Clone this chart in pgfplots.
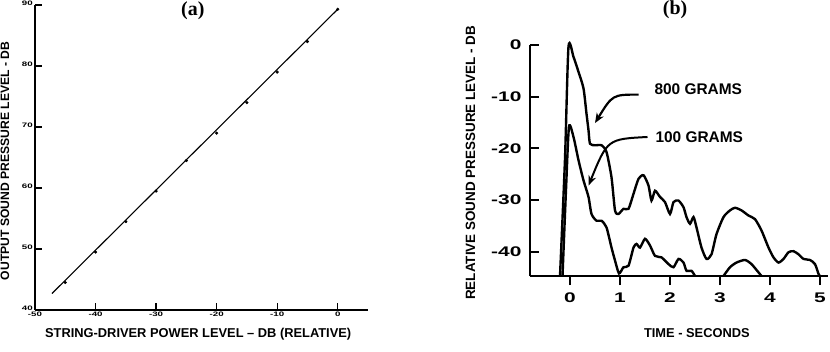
\documentclass[border=0pt]{standalone}
\usepackage{pgfplots}
\pgfplotsset{compat=1.18}
\usepackage{fontspec}
\setmainfont{Liberation Sans}
\newfontfamily\titlefont{Liberation Serif}
\newfontfamily\widefont{Liberation Sans Bold}[FakeStretch=1.5]
\usetikzlibrary{arrows.meta}

% 800 g and 100 g decay curves, panel (b)
\pgfplotstableread{
t db
-0.20 -44.7
-0.10 -22
-0.03 -0.3
0.07 -2.3
0.17 -5.2
0.27 -8.4
0.33 -13.3
0.37 -16.5
0.40 -19.1
0.50 -19.4
0.63 -19.4
0.73 -20.7
0.83 -25.6
0.90 -32.0
0.97 -32.7
1.07 -31.7
1.17 -31.7
1.27 -28.8
1.37 -25.9
1.47 -25.2
1.57 -27.2
1.63 -30.1
1.70 -28.2
1.80 -29.4
1.90 -30.4
2.00 -32.7
2.07 -30.4
2.17 -30.1
2.27 -31.4
2.33 -33.3
2.40 -34.6
2.47 -33.3
2.53 -35.3
2.63 -39.2
2.73 -41.4
2.83 -40.5
2.93 -36.6
3.07 -33.3
3.20 -32.0
3.30 -31.5
3.43 -32.0
3.57 -33.0
3.70 -33.7
3.83 -35.9
3.97 -39.2
4.07 -41.1
4.17 -42.1
4.27 -41.4
4.37 -40.1
4.47 -39.9
4.57 -40.5
4.67 -41.4
4.80 -41.6
4.90 -42.4
4.97 -44.3
5.00 -44.7
}\heavy

\pgfplotstableread{
t db
-0.15 -44.7
-0.08 -28
-0.02 -15.8
0.07 -17.8
0.17 -22.3
0.27 -26.2
0.37 -29.4
0.43 -32.7
0.53 -34.0
0.63 -34.0
0.73 -35.3
0.83 -39.2
0.90 -41.7
0.98 -44.2
1.07 -43.0
1.17 -42.7
1.27 -39.2
1.33 -38.5
1.40 -39.2
1.50 -37.5
1.60 -38.8
1.70 -40.8
1.83 -41.1
1.97 -42.4
2.07 -43.0
2.17 -41.4
2.27 -42.1
2.33 -43.7
2.43 -43.7
2.50 -44.7
}\lightA

\pgfplotstableread{
t db
3.07 -44.7
3.20 -43.0
3.33 -42.1
3.50 -41.6
3.63 -42.4
3.77 -44.0
3.83 -44.7
}\lightB

\begin{document}
\begin{tikzpicture}
\useasboundingbox (0,0) rectangle (830bp,352bp);

% panel (a)
\begin{axis}[
    at={(35bp,42bp)}, anchor=south west,
    scale only axis, width=333bp, height=305bp,
    xmin=-50, xmax=5, ymin=40, ymax=90,
    axis lines*=left,
    axis line style={line width=1.2pt},
    tick align=inside,
    major tick length=7bp,
    tick style={line width=1.2pt, black},
    xtick={-50,-40,...,0},
    ytick={40,50,...,90},
    xticklabel={\pgfmathprintnumber[assume math mode=true]{\tick}},
    yticklabel={\pgfmathprintnumber[assume math mode=true]{\tick}},
    tick label style={font=\widefont\fontsize{6.5}{6.5}\selectfont, inner sep=1bp},
    xticklabel style={yshift=-1bp},
    yticklabel style={xshift=-1bp, yshift=1.5bp},
    xlabel={STRING-DRIVER POWER LEVEL -- DB (RELATIVE)},
    ylabel={OUTPUT SOUND PRESSURE LEVEL - DB},
    xlabel style={at={(axis description cs:0.49,-0.08)}, anchor=center,
        font=\bfseries\fontsize{12.9}{12.9}\selectfont},
    ylabel style={at={(axis description cs:-0.09,0.489)}, anchor=center,
        font=\bfseries\fontsize{12.2}{12.2}\selectfont},
    title={(a)},
    title style={at={(axis description cs:0.474,0.962)}, anchor=center,
        font=\titlefont\bfseries\fontsize{20}{20}\selectfont},
    clip=false,
]
\addplot[black, line width=1.1pt] coordinates {(-47.2,42.7) (0,89.3)};
\addplot[black, only marks, mark=*, mark size=1.4pt] coordinates {
    (-45,44.5) (-40,49.5) (-35,54.5) (-30,59.5) (-25,64.5)
    (-20,69) (-15,74) (-10,79) (-5,84) (0,89.3)};
\end{axis}

% panel (b)
\begin{axis}[
    at={(530bp,76bp)}, anchor=south west,
    scale only axis, width=298bp, height=231bp,
    xmin=-0.8, xmax=5.16, ymin=-44.7, ymax=0,
    axis lines*=left,
    axis line style={line width=1.8pt},
    xtick align=outside, ytick align=inside,
    xtick={0,1,...,5},
    ytick={0,-10,...,-40},
    xticklabel={\pgfmathprintnumber[assume math mode=true]{\tick}},
    yticklabel={\pgfmathprintnumber[assume math mode=true]{\tick}},
    major tick length=9bp,
    tick style={line width=1.8pt, black},
    tick label style={font=\widefont\fontsize{14}{14}\selectfont},
    xticklabel style={yshift=-4bp},
    yticklabel style={xshift=-5bp},
    xlabel={TIME - SECONDS},
    ylabel={RELATIVE SOUND PRESSURE LEVEL - DB},
    xlabel style={at={(axis description cs:0.56,-0.247)}, anchor=center,
        font=\bfseries\fontsize{12.9}{12.9}\selectfont},
    ylabel style={at={(axis description cs:-0.2,0.49)}, anchor=center,
        font=\bfseries\fontsize{13.5}{13.5}\selectfont},
    title={(b)},
    title style={at={(axis description cs:0.487,1.126)}, anchor=center,
        font=\titlefont\bfseries\fontsize{20}{20}\selectfont},
    clip=false,
]
\addplot[black, line width=2.4pt, smooth, tension=0.4] table[x=t, y=db] {\heavy};
\addplot[black, line width=2.4pt, smooth, tension=0.4] table[x=t, y=db] {\lightA};
\addplot[black, line width=2.4pt, smooth, tension=0.4] table[x=t, y=db] {\lightB};

\node[anchor=west, font=\bfseries\fontsize{15.5}{15.5}\selectfont] at (axis cs:1.62,-8.5) {800 GRAMS};
\node[anchor=west, font=\bfseries\fontsize{15.5}{15.5}\selectfont] at (axis cs:1.64,-17.8) {100 GRAMS};
\draw[line width=2.2pt, -{Stealth[length=10pt,width=8pt]}]
    (axis cs:1.37,-9.6) .. controls (axis cs:0.85,-9.6) .. (axis cs:0.5,-15.1);
\draw[line width=2pt, -{Stealth[length=10pt,width=8pt]}]
    (axis cs:1.55,-17.8) .. controls (axis cs:0.75,-18.2) .. (axis cs:0.37,-27.2);
\end{axis}
\end{tikzpicture}
\end{document}
